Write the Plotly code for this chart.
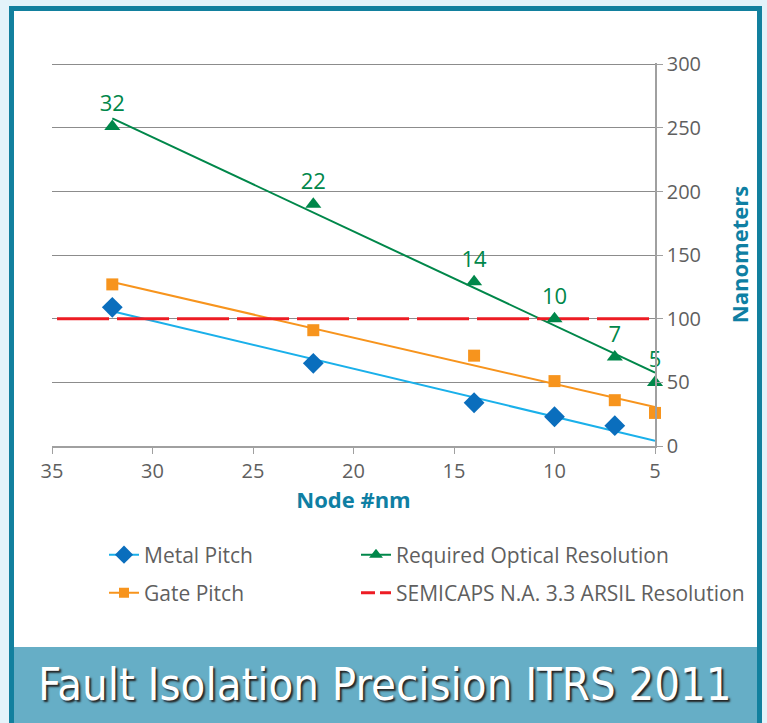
import numpy as np
import plotly.graph_objects as go

# ---- data ----
metal_nodes = [32, 22, 14, 10, 7]
metal_pitch = [109, 65, 34, 23, 16]

gate_nodes = [32, 22, 14, 10, 7, 5]
gate_pitch = [127, 91, 71, 51, 36, 26]

opt_nodes = [32, 22, 14, 10, 7, 5]
opt_res = [251, 190, 129, 100, 70, 50]
opt_labels = ["32", "22", "14", "10", "7", "5"]

trend_x = [32, 5]          # span of the linear trendlines

semicaps_x = [34.75, 5]
semicaps_y = [100, 100]

x_ticks = [35, 30, 25, 20, 15, 10, 5]
y_ticks = [0, 50, 100, 150, 200, 250, 300]

# ---- styling ----
W, H = 767, 723
L, R, T, B = 52, 655, 63, 446  # plot area in px
C_METAL_LINE = "#1ab0ea"
C_METAL_MK = "#0a6ebd"
C_GATE = "#f7941d"
C_OPT = "#00874a"
C_RED = "#ed1c24"
C_TEAL = "#0f7fa3"
C_GRAY = "#5f5f5f"
FONT = "Open Sans, Noto Sans, sans-serif"


def px(xp):
    return (xp - L) / (R - L)


def py(yp):
    return (B - yp) / (B - T)


def trend(xs, ys):
    k, b = np.polyfit(xs, ys, 1)
    return trend_x, [k * v + b for v in trend_x]


fig = go.Figure()

# trendlines
for xs, ys, col in [(metal_nodes, metal_pitch, C_METAL_LINE),
                    (gate_nodes, gate_pitch, C_GATE),
                    (opt_nodes, opt_res, C_OPT)]:
    tx, ty = trend(xs, ys)
    fig.add_trace(go.Scatter(x=tx, y=ty, mode="lines", line=dict(color=col, width=2),
                             showlegend=False, hoverinfo="skip", cliponaxis=False))

# red dashed reference line
fig.add_trace(go.Scatter(x=semicaps_x, y=semicaps_y, mode="lines",
                         line=dict(color=C_RED, width=3, dash="52px,8px"),
                         showlegend=False, cliponaxis=False))

# markers
fig.add_trace(go.Scatter(x=metal_nodes, y=metal_pitch, mode="markers",
                         marker=dict(symbol="diamond", size=16, color=C_METAL_MK),
                         showlegend=False, cliponaxis=False))
fig.add_trace(go.Scatter(x=gate_nodes, y=gate_pitch, mode="markers",
                         marker=dict(symbol="square", size=12, color=C_GATE),
                         showlegend=False, cliponaxis=False))
fig.add_trace(go.Scatter(x=opt_nodes, y=opt_res, mode="markers+text",
                         marker=dict(symbol="triangle-up", size=14, color=C_OPT),
                         text=opt_labels, textposition="top center",
                         textfont=dict(size=22, color=C_OPT, family=FONT),
                         showlegend=False, cliponaxis=False))

# legend entries, one legend box per entry (2 x 2 grid)
leg = [
    ("Metal Pitch", "legend", dict(color=C_METAL_LINE, width=2), dict(symbol="diamond", size=14, color=C_METAL_MK)),
    ("Required Optical Resolution", "legend2", dict(color=C_OPT, width=2), dict(symbol="triangle-up", size=12, color=C_OPT)),
    ("Gate Pitch", "legend3", dict(color=C_GATE, width=2), dict(symbol="square", size=10, color=C_GATE)),
    ("SEMICAPS N.A. 3.3 ARSIL Resolution", "legend4", dict(color=C_RED, width=3, dash="14px,5px"), None),
]
for name, lg, ln, mk in leg:
    fig.add_trace(go.Scatter(x=[None], y=[None], name=name, legend=lg,
                             mode="lines+markers" if mk else "lines",
                             line=ln, marker=mk if mk else dict()))

shapes = [
    dict(type="rect", xref="paper", yref="paper", layer="below",
         x0=px(11.5), x1=px(759.5), y0=py(740), y1=py(8.5),
         fillcolor="white", line=dict(width=0)),
    dict(type="rect", xref="paper", yref="paper", layer="below",
         x0=px(12), x1=px(760), y0=py(740), y1=py(647),
         fillcolor="#66aec6", line=dict(width=0)),
    dict(type="rect", xref="paper", yref="paper", layer="below",
         x0=px(11.5), x1=px(759.5), y0=py(760), y1=py(8.5),
         fillcolor="rgba(0,0,0,0)", line=dict(color="#12809e", width=5)),
]

leg_common = dict(orientation="h", xanchor="left", yanchor="middle",
                  font=dict(size=21, color=C_GRAY),
                  bgcolor="rgba(0,0,0,0)")

fig.update_layout(
    width=W, height=H,
    margin=dict(l=L, r=W - R, t=T, b=H - B, pad=0),
    paper_bgcolor="#e3f3fa",
    plot_bgcolor="rgba(0,0,0,0)",
    font=dict(family=FONT, color=C_GRAY),
    shapes=shapes,
    xaxis=dict(range=[35, 5], tickvals=x_ticks, showgrid=False, zeroline=False,
               showline=True, linecolor="#a0a0a0", linewidth=1.5,
               ticks="outside", ticklen=6, tickcolor="#a0a0a0",
               tickfont=dict(size=20, color=C_GRAY),
               title=dict(text="<b>Node #nm</b>", font=dict(size=22, color=C_TEAL), standoff=10)),
    yaxis=dict(range=[0, 301], tickvals=y_ticks, side="right", showgrid=True,
               gridcolor="#8c8c8c", gridwidth=1, zeroline=False,
               showline=True, linecolor="#a0a0a0", linewidth=1.5,
               ticks="outside", ticklen=6, tickcolor="#a0a0a0",
               tickfont=dict(size=20, color=C_GRAY),
               title=dict(text="<b>Nanometers</b>", font=dict(size=22, color=C_TEAL), standoff=33)),
    legend=dict(x=px(104), y=py(555), **leg_common),
    legend2=dict(x=px(356), y=py(555), **leg_common),
    legend3=dict(x=px(104), y=py(593), **leg_common),
    legend4=dict(x=px(356), y=py(593), **leg_common),
    annotations=[
        dict(text="Fault Isolation Precision ITRS 2011", xref="paper", yref="paper",
             x=px(385), y=py(684), xanchor="center", yanchor="middle", showarrow=False,
             font=dict(family="Liberation Sans Narrow, DejaVu Sans Condensed, Roboto Condensed, Roboto, sans-serif",
                       size=45, color="white", shadow="2px 2px 2px #222")),
    ],
)

fig.write_html("out.html", config={"displayModeBar": False},
               post_script="document.body.style.margin='0';document.body.style.overflow='hidden';")
